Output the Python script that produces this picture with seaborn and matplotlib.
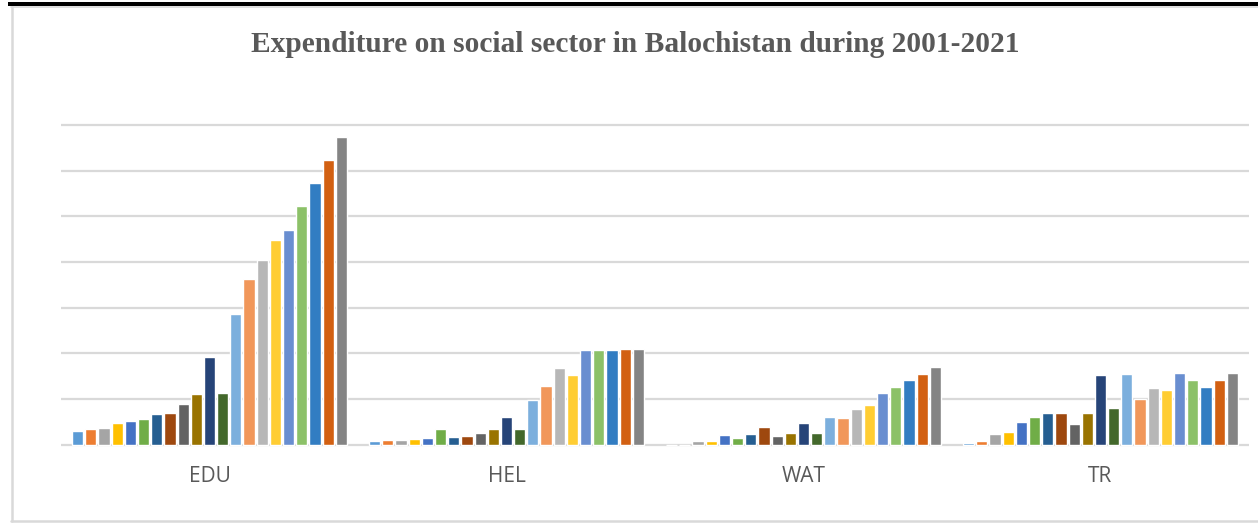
import matplotlib
matplotlib.use("Agg")
import matplotlib.pyplot as plt
from matplotlib.lines import Line2D
from matplotlib.patches import Rectangle
import pandas as pd
import seaborn as sns

# Social sector spending categories and fiscal years
categories = ["EDU", "HEL", "WAT", "TR"]
years = [str(y) for y in range(2001, 2022)]

# Expenditure per year (2001 .. 2021) for each sector
edu = [0.29, 0.33, 0.37, 0.47, 0.52, 0.55, 0.66, 0.69, 0.88, 1.10, 1.92,
       1.12, 2.85, 3.63, 4.05, 4.49, 4.71, 5.22, 5.73, 6.24, 6.74]
hel = [0.08, 0.09, 0.095, 0.12, 0.15, 0.33, 0.17, 0.18, 0.26, 0.34, 0.61,
       0.35, 0.98, 1.28, 1.68, 1.53, 2.07, 2.08, 2.08, 2.09, 2.09]
wat = [0.0, 0.0, 0.08, 0.066, 0.20, 0.15, 0.22, 0.39, 0.18, 0.25, 0.47,
       0.26, 0.60, 0.58, 0.77, 0.86, 1.12, 1.26, 1.41, 1.55, 1.69]
tr = [0.04, 0.07, 0.23, 0.28, 0.49, 0.60, 0.69, 0.68, 0.45, 0.69, 1.52,
      0.79, 1.54, 0.99, 1.23, 1.20, 1.57, 1.42, 1.26, 1.42, 1.57]

series = {"EDU": edu, "HEL": hel, "WAT": wat, "TR": tr}

# Office-style accent palette with its darker and lighter variants
colors = ["#5B9BD5", "#ED7D31", "#A5A5A5", "#FFC000", "#4472C4", "#70AD47",
          "#255E91", "#9E480E", "#636363", "#997300", "#264478", "#43682B",
          "#7CAFDD", "#F1975A", "#B7B7B7", "#FFCD33", "#698ED0", "#8CC168",
          "#327DC2", "#D26012", "#848484"]

rows = []
for cat in categories:
    for yr, val in zip(years, series[cat]):
        rows.append({"sector": cat, "year": yr, "value": val})
df = pd.DataFrame(rows)

sns.set_theme(style="white")
W, H = 1258, 525
fig = plt.figure(figsize=(W / 100, H / 100), dpi=100)
fig.patch.set_facecolor("white")

unit = (444.5 - 125.0) / 7.0
ymin, ymax = -0.05, 7.05
top_px = 444.5 - ymax * unit
bot_px = 444.5 - ymin * unit
left_px, right_px = 61, 1249
ax = fig.add_axes([left_px / W, (H - bot_px) / H,
                   (right_px - left_px) / W, (bot_px - top_px) / H])

sns.barplot(data=df, x="sector", y="value", hue="year", order=categories,
            hue_order=years, palette=colors, width=0.933, gap=0.15,
            saturation=1, legend=False, ax=ax, errorbar=None)

ax.set_ylim(ymin, ymax)
ax.set_xlim(-0.5, len(categories) - 0.5)
ax.set_yticks(range(0, 8))
ax.set_yticklabels([])
ax.yaxis.grid(True, color="#D9D9D9", linewidth=1.6)
ax.set_axisbelow(True)
for s in ax.spines.values():
    s.set_visible(False)
ax.set_xlabel("")
ax.set_ylabel("")
ax.tick_params(axis="y", length=0)
ax.tick_params(axis="x", length=0, pad=14)
for lbl in ax.get_xticklabels():
    lbl.set_fontfamily("Open Sans")
    lbl.set_fontsize(15)
    lbl.set_color("#595959")

fig.text(635.5 / W, 1 - 45 / H,
         "Expenditure on social sector in Balochistan during 2001-2021",
         ha="center", va="center", fontsize=21.2, fontweight="bold",
         family="Liberation Serif", color="#595959")

# chart frame: dark top rule with light grey outline
fig.add_artist(Rectangle((8 / W, 1 - 6 / H), 1 - 8 / W, 4 / H,
                         transform=fig.transFigure, color="black", lw=0))
fig.add_artist(Line2D([11 / W, 1], [1 - 6.8 / H] * 2, color="#D9D9D9",
                      lw=1.2, transform=fig.transFigure))
fig.add_artist(Line2D([12 / W] * 2, [1 - 7 / H, 1 - 521 / H],
                      color="#D9D9D9", lw=1.8, transform=fig.transFigure))
fig.add_artist(Line2D([11 / W, 1], [1 - 521 / H] * 2, color="#D9D9D9",
                      lw=1.8, transform=fig.transFigure))

fig.savefig("out.png", dpi=100, facecolor="white")
